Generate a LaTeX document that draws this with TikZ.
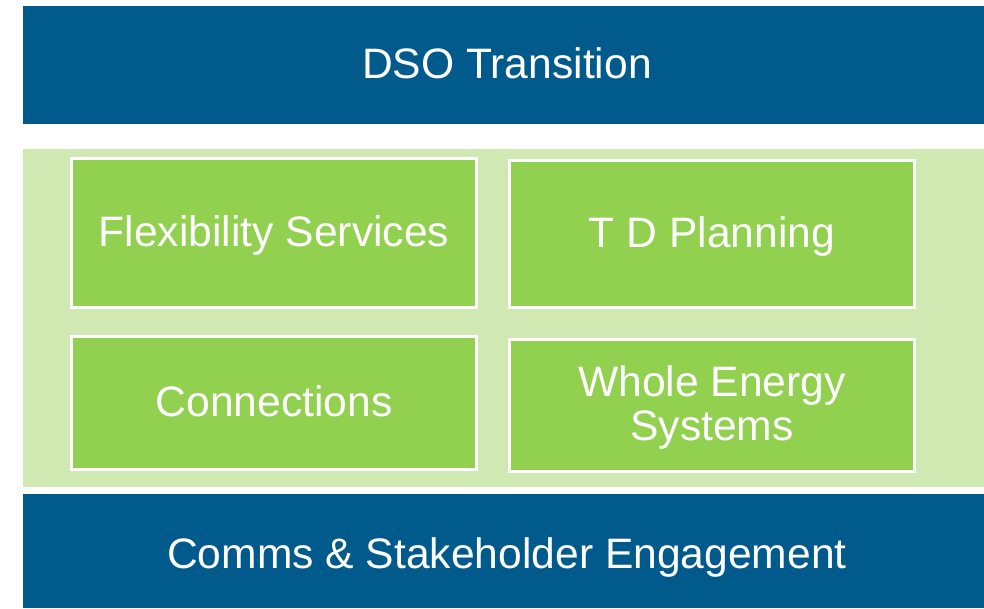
\documentclass[tikz,border=0pt]{standalone}
\usepackage{fontspec}
\setmainfont{Liberation Sans}
\definecolor{dsoblue}{RGB}{0,90,140}
\definecolor{palegreen}{RGB}{208,233,179}
\definecolor{boxgreen}{RGB}{146,208,80}
\begin{document}
\begin{tikzpicture}[x=1pt,y=-1pt,
  bigtext/.style={text=white,font=\fontsize{42.6}{44}\selectfont,align=center,text height=30.5pt,text depth=4pt},
  bar/.style={fill=dsoblue,draw=none,inner sep=0pt,bigtext},
  panel/.style={fill=palegreen,draw=none,inner sep=0pt},
  gbox/.style={fill=boxgreen,draw=white,line width=2.8pt,inner sep=0pt,bigtext}]
\useasboundingbox (0,0) rectangle (984,608);
\fill[white] (0,0) rectangle (984,608);
\node[bar,minimum width=968pt,minimum height=118pt] (top) at (507,65) {DSO Transition};
\node[panel,minimum width=961pt,minimum height=338pt] (mid) at (503.5,318) {};
\node[bar,minimum width=968pt,minimum height=114pt,text height=34.5pt,text depth=0pt] (bottom) at (507,551) {Comms \& Stakeholder Engagement};
\node[gbox,minimum width=405pt,minimum height=149pt] (flex) at (274,233) {Flexibility Services};
\node[gbox,minimum width=405pt,minimum height=147pt] (td) at (712,234) {T D Planning};
\node[gbox,minimum width=405pt,minimum height=133pt] (conn) at (274,403) {Connections};
\node[gbox,minimum width=405pt,minimum height=132pt,text height=74.5pt,text depth=4.6pt] (whole) at (712,405.5) {Whole Energy\\Systems};
\end{tikzpicture}
\end{document}
